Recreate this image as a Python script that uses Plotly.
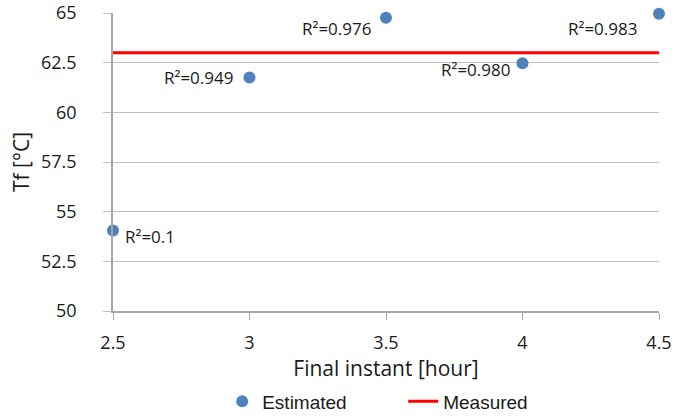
import plotly.graph_objects as go

final_instant = [2.5, 3.0, 3.5, 4.0, 4.5]
tf_estimated = [54.05, 61.75, 64.76, 62.47, 64.96]
r2_labels = ["R²=0.1", "R²=0.949", "R²=0.976", "R²=0.980", "R²=0.983"]
measured_x = [2.5, 4.5]
measured_tf = [63.0, 63.0]
x_ticks = [2.5, 3, 3.5, 4, 4.5]
y_ticks = [50, 52.5, 55, 57.5, 60, 62.5, 65]

FONT = "Open Sans"
TXT = "#1a1a1a"

fig = go.Figure()
fig.add_trace(go.Scatter(
    x=final_instant, y=tf_estimated, mode="markers", name="Estimated",
    marker=dict(color="#4F81BD", size=12),
    cliponaxis=False,
))
fig.add_trace(go.Scatter(
    x=measured_x, y=measured_tf, mode="lines", name="Measured",
    line=dict(color="#FF0000", width=3),
))

# label offsets (pixels) per point
offsets = [(10, -6, "left"), (-15, 0, "right"), (-13, -11, "right"), (-11, -6, "right"), (-20, -15, "right")]
for xv, yv, lab, (dx, dy, anc) in zip(final_instant, tf_estimated, r2_labels, offsets):
    fig.add_annotation(x=xv, y=yv, text=lab, showarrow=False, xanchor=anc,
                       xshift=dx, yshift=dy,
                       font=dict(family=FONT, size=17, color=TXT))

fig.update_layout(
    width=675, height=419, autosize=False,
    margin=dict(l=113, r=16, t=13, b=108, autoexpand=False),
    paper_bgcolor="white", plot_bgcolor="white",
    showlegend=True,
    legend=dict(orientation="h", x=0.2, xanchor="left", y=-0.24, yanchor="top",
                font=dict(family="Liberation Sans Narrow, Liberation Sans", size=19, color=TXT),
                entrywidth=136, entrywidthmode="pixels", itemwidth=30),
    xaxis=dict(range=[2.5, 4.5], tickvals=x_ticks, ticktext=[f"{v:g}" for v in x_ticks],
               showgrid=False, zeroline=False, showline=True, linecolor="#A6A6A6", linewidth=1.5,
               ticks="outside", ticklen=7, tickcolor="#A6A6A6", automargin=False,
               ticklabelstandoff=8,
               tickfont=dict(family=FONT, size=18, color=TXT),
               title=dict(text="Final instant [hour]", standoff=4,
                          font=dict(family=FONT, size=21, color=TXT))),
    yaxis=dict(range=[50, 65], tickvals=y_ticks, ticktext=[f"{v:g}" for v in y_ticks],
               showgrid=True, gridcolor="#C0C0C0", gridwidth=1.2, zeroline=False,
               showline=True, linecolor="#A6A6A6", linewidth=1.5, automargin=False,
               ticks="outside", ticklen=8, tickcolor="#C0C0C0",
               ticklabelstandoff=23,
               tickfont=dict(family=FONT, size=18, color=TXT),
               title=dict(text="Tf [°C]", standoff=6,
                          font=dict(family=FONT, size=21, color=TXT))),
)

fig.write_html("out.html", config={"displayModeBar": False},
               post_script="document.body.style.margin='0';document.body.style.padding='0';")
